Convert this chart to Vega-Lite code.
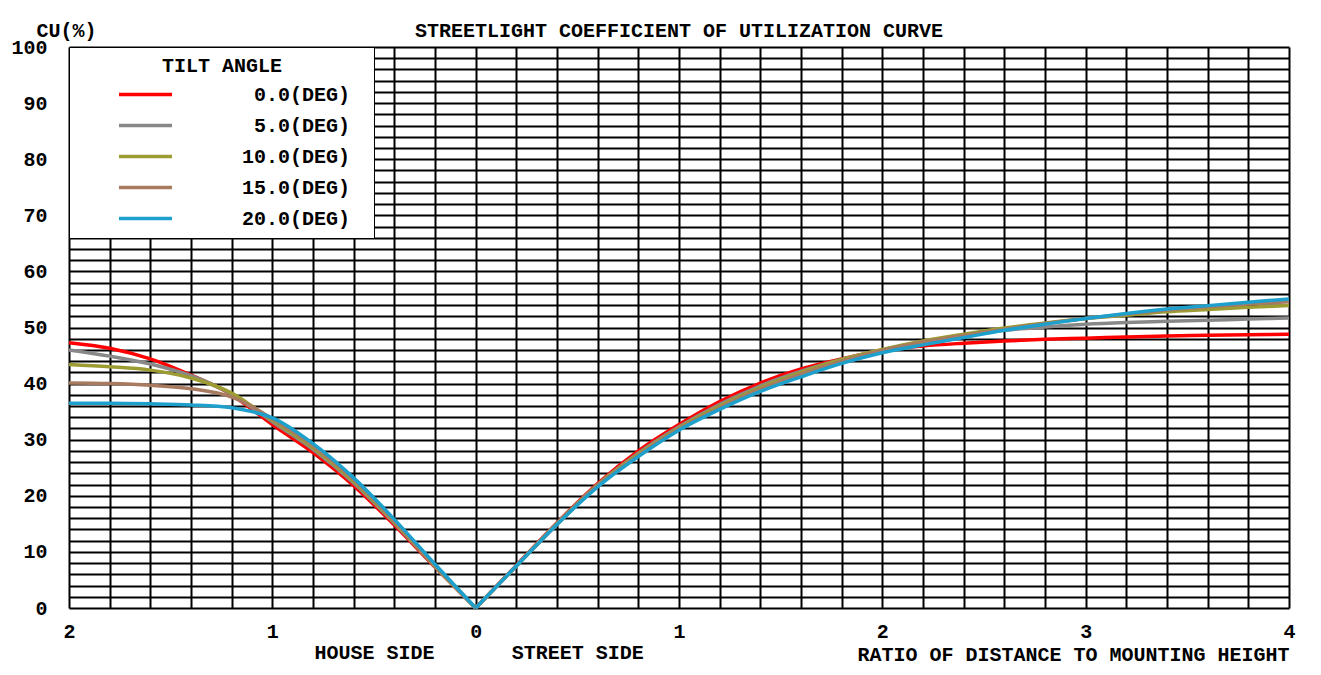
{
  "$schema": "https://vega.github.io/schema/vega-lite/v6.json",
  "width": 1220,
  "height": 561,
  "autosize": {"type": "none"},
  "padding": {"left": 69, "top": 47, "right": 32, "bottom": 67},
  "background": "white",
  "title": {
    "text": "STREETLIGHT COEFFICIENT OF UTILIZATION CURVE",
    "font": "Liberation Mono", "fontSize": 20, "fontWeight": "bold", "color": "black",
    "anchor": "middle", "frame": "group", "baseline": "alphabetic", "offset": -37
  },
  "data": {"values": [
    {"side": "house", "x": -2.0, "t0": 47.3, "t5": 46.0, "t10": 43.4, "t15": 40.1, "t20": 36.5},
    {"side": "house", "x": -1.8, "t0": 46.3, "t5": 44.9, "t10": 43.0, "t15": 40.0, "t20": 36.5},
    {"side": "house", "x": -1.6, "t0": 44.4, "t5": 43.5, "t10": 42.4, "t15": 39.7, "t20": 36.4},
    {"side": "house", "x": -1.4, "t0": 41.5, "t5": 41.4, "t10": 41.0, "t15": 39.1, "t20": 36.2},
    {"side": "house", "x": -1.2, "t0": 38.0, "t5": 38.1, "t10": 38.3, "t15": 37.6, "t20": 35.7},
    {"side": "house", "x": -1.1, "t0": 35.4, "t5": 35.7, "t10": 36.0, "t15": 35.9, "t20": 35.0},
    {"side": "house", "x": -1.0, "t0": 32.7, "t5": 33.2, "t10": 33.5, "t15": 33.7, "t20": 33.9},
    {"side": "house", "x": -0.8, "t0": 27.7, "t5": 28.3, "t10": 28.6, "t15": 28.9, "t20": 29.3},
    {"side": "house", "x": -0.6, "t0": 21.8, "t5": 22.3, "t10": 22.6, "t15": 22.9, "t20": 23.2},
    {"side": "house", "x": -0.4, "t0": 14.8, "t5": 15.1, "t10": 15.3, "t15": 15.5, "t20": 15.8},
    {"side": "house", "x": -0.2, "t0": 7.3, "t5": 7.4, "t10": 7.5, "t15": 7.6, "t20": 7.8},
    {"side": "house", "x": 0, "t0": 0, "t5": 0, "t10": 0, "t15": 0, "t20": 0},
    {"side": "street", "x": 0, "t0": 0, "t5": 0, "t10": 0, "t15": 0, "t20": 0},
    {"side": "street", "x": 0.2, "t0": 7.6, "t5": 7.5, "t10": 7.5, "t15": 7.5, "t20": 7.5},
    {"side": "street", "x": 0.4, "t0": 15.2, "t5": 15.1, "t10": 15.0, "t15": 14.9, "t20": 14.9},
    {"side": "street", "x": 0.6, "t0": 22.2, "t5": 22.0, "t10": 21.9, "t15": 21.8, "t20": 21.6},
    {"side": "street", "x": 0.8, "t0": 28.0, "t5": 27.6, "t10": 27.4, "t15": 27.2, "t20": 27.0},
    {"side": "street", "x": 1.0, "t0": 32.7, "t5": 32.3, "t10": 32.1, "t15": 31.9, "t20": 31.7},
    {"side": "street", "x": 1.2, "t0": 36.8, "t5": 36.3, "t10": 36.0, "t15": 35.7, "t20": 35.4},
    {"side": "street", "x": 1.4, "t0": 40.1, "t5": 39.6, "t10": 39.3, "t15": 39.0, "t20": 38.6},
    {"side": "street", "x": 1.6, "t0": 42.6, "t5": 42.2, "t10": 42.0, "t15": 41.7, "t20": 41.2},
    {"side": "street", "x": 1.8, "t0": 44.4, "t5": 44.3, "t10": 44.3, "t15": 44.0, "t20": 43.6},
    {"side": "street", "x": 2.0, "t0": 45.9, "t5": 46.0, "t10": 46.1, "t15": 45.9, "t20": 45.5},
    {"side": "street", "x": 2.2, "t0": 46.7, "t5": 47.4, "t10": 47.6, "t15": 47.4, "t20": 46.9},
    {"side": "street", "x": 2.4, "t0": 47.2, "t5": 48.6, "t10": 48.8, "t15": 48.6, "t20": 48.2},
    {"side": "street", "x": 2.6, "t0": 47.6, "t5": 49.5, "t10": 49.9, "t15": 49.7, "t20": 49.5},
    {"side": "street", "x": 2.8, "t0": 47.9, "t5": 50.1, "t10": 50.8, "t15": 50.7, "t20": 50.6},
    {"side": "street", "x": 3.0, "t0": 48.1, "t5": 50.6, "t10": 51.6, "t15": 51.6, "t20": 51.6},
    {"side": "street", "x": 3.2, "t0": 48.3, "t5": 50.9, "t10": 52.2, "t15": 52.4, "t20": 52.5},
    {"side": "street", "x": 3.4, "t0": 48.5, "t5": 51.1, "t10": 52.8, "t15": 53.1, "t20": 53.3},
    {"side": "street", "x": 3.6, "t0": 48.6, "t5": 51.3, "t10": 53.2, "t15": 53.7, "t20": 53.9},
    {"side": "street", "x": 3.8, "t0": 48.7, "t5": 51.5, "t10": 53.6, "t15": 54.2, "t20": 54.5},
    {"side": "street", "x": 4.0, "t0": 48.8, "t5": 51.7, "t10": 53.9, "t15": 54.6, "t20": 55.1}
  ]},
  "transform": [{"fold": ["t0", "t5", "t10", "t15", "t20"], "as": ["tilt", "cu"]}],
  "mark": {"type": "line", "interpolate": "monotone", "strokeWidth": 3.5},
  "encoding": {
    "x": {
      "field": "x", "type": "quantitative",
      "scale": {"domain": [-2, 4], "nice": false, "zero": false},
      "axis": {
        "values": [-2, -1.8, -1.6, -1.4, -1.2, -1, -0.8, -0.6, -0.5, -0.4, -0.2, 0, 0.2, 0.4, 0.5, 0.6, 0.8, 1, 1.2, 1.4, 1.6, 1.8, 2, 2.2, 2.4, 2.6, 2.8, 3, 3.2, 3.4, 3.6, 3.8, 4],
        "labelExpr": "datum.value == -0.5 ? ['', 'HOUSE SIDE'] : datum.value == 0.5 ? ['', 'STREET SIDE'] : (datum.value == round(datum.value) ? format(abs(datum.value), 'd') : '')",
        "grid": true,
        "gridColor": "black",
        "gridWidth": 2,
        "gridOpacity": {"condition": {"test": "datum.value == -0.5 || datum.value == 0.5", "value": 0}, "value": 1},
        "ticks": false,
        "domain": false,
        "labelOverlap": false,
        "labelFlush": false,
        "labelBound": false,
        "labelPadding": 13,
        "labelBaseline": "top",
        "labelLineHeight": 21,
        "title": "RATIO OF DISTANCE TO MOUNTING HEIGHT",
        "titleX": 1220,
        "titleY": 52,
        "titleAlign": "right",
        "titleAnchor": "end",
        "titleBaseline": "alphabetic"
      }
    },
    "y": {
      "field": "cu", "type": "quantitative",
      "scale": {"domain": [0, 100], "nice": false},
      "axis": {
        "values": [0, 2, 4, 6, 8, 10, 12, 14, 16, 18, 20, 22, 24, 26, 28, 30, 32, 34, 36, 38, 40, 42, 44, 46, 48, 50, 52, 54, 56, 58, 60, 62, 64, 66, 68, 70, 72, 74, 76, 78, 80, 82, 84, 86, 88, 90, 92, 94, 96, 98, 100],
        "labelExpr": "datum.value % 10 == 0 ? datum.label : ''",
        "grid": true,
        "gridColor": "black",
        "gridWidth": 2,
        "ticks": false,
        "domain": false,
        "labelOverlap": false,
        "labelFlush": false,
        "labelBound": false,
        "labelPadding": 22,
        "labelAlign": "right",
        "title": "CU(%)",
        "titleAngle": 0,
        "titleX": -33,
        "titleY": -11,
        "titleAlign": "left",
        "titleBaseline": "alphabetic"
      }
    },
    "color": {
      "field": "tilt", "type": "nominal",
      "scale": {"domain": ["t0", "t5", "t10", "t15", "t20"], "range": ["#ff0000", "#888888", "#9c9c33", "#a87a60", "#1ea0cd"]},
      "legend": {
        "title": "TILT ANGLE",
        "orient": "top-left",
        "offset": 0,
        "padding": 9,
        "fillColor": "white",
        "strokeColor": "black",
        "symbolType": "M-3.12,0L3.12,0",
        "symbolSize": 289,
        "symbolStrokeWidth": 3.5,
        "symbolOffset": 57,
        "labelAlign": "right",
        "labelOffset": 209,
        "labelLimit": 300,
        "labelExpr": "replace(datum.label, 't', '') + '.0(DEG)\u2800'",
        "rowPadding": 10,
        "titlePadding": 8,
        "titleAnchor": "middle",
        "zindex": 1
      }
    },
    "detail": {"field": "side"}
  },
  "config": {
    "view": {"stroke": null},
    "axis": {
      "labelFont": "Liberation Mono", "labelFontSize": 20, "labelFontWeight": "bold", "labelColor": "black",
      "titleFont": "Liberation Mono", "titleFontSize": 20, "titleFontWeight": "bold", "titleColor": "black"
    },
    "legend": {
      "labelFont": "Liberation Mono", "labelFontSize": 20, "labelFontWeight": "bold", "labelColor": "black",
      "titleFont": "Liberation Mono", "titleFontSize": 20, "titleFontWeight": "bold", "titleColor": "black"
    }
  }
}
